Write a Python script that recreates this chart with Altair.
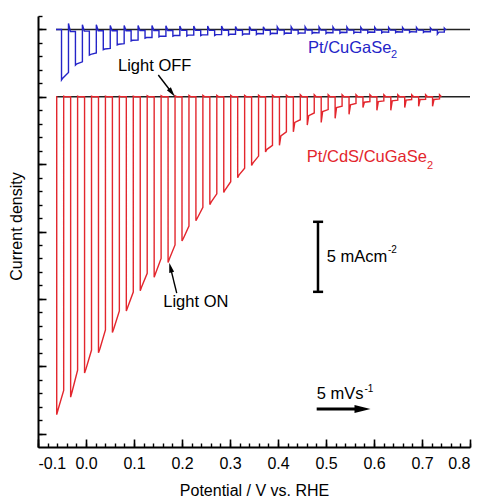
import altair as alt
import pandas as pd

BLUE = "#2424c8"
RED = "#e3262d"
FONT = "Liberation Sans"

# ---- axis ticks -------------------------------------------------------
x_major = [-0.1, 0.0, 0.1, 0.2, 0.3, 0.4, 0.5, 0.6, 0.7, 0.8]
x_minor = [-0.1, -0.08, -0.06, -0.04, -0.02, 0.0, 0.02, 0.04, 0.06, 0.08,
           0.1, 0.12, 0.14, 0.16, 0.18, 0.2, 0.22, 0.24, 0.26, 0.28,
           0.3, 0.32, 0.34, 0.36, 0.38, 0.4, 0.42, 0.44, 0.46, 0.48,
           0.5, 0.52, 0.54, 0.56, 0.58, 0.6, 0.62, 0.64, 0.66, 0.68,
           0.7, 0.72, 0.74, 0.76, 0.78, 0.8]
y_major = [-25, -20, -15, -10, -5, 0, 5]
y_minor = [-25, -24, -23, -22, -21, -20, -19, -18, -17, -16, -15, -14, -13,
           -12, -11, -10, -9, -8, -7, -6, -5, -4, -3, -2, -1, 0, 1, 2, 3, 4,
           5, 6]

# ---- chopped-light traces (potential in V, current in mA cm-2) ---------
start_v = -0.0625
light_on_width = 0.0145
recover_width = 0.003
blue_offset = 5.0   # vertical offset of the Pt/CuGaSe2 trace
red_offset = 0.0

red_on = [-0.061, -0.032, -0.003, 0.026, 0.055, 0.084, 0.113, 0.142, 0.171,
          0.200, 0.229, 0.258, 0.287, 0.316, 0.345, 0.374, 0.403, 0.432,
          0.461, 0.490, 0.519, 0.548, 0.577, 0.606, 0.635, 0.664, 0.693,
          0.722]
red_depth = [23.6, 22.3, 20.5, 19.0, 17.5, 15.9, 14.4, 13.4, 12.3, 10.7,
             9.2, 8.0, 7.1, 6.0, 5.1, 4.1, 3.6, 2.6, 2.1, 1.9, 1.6, 1.3, 0.8,
             1.0, 1.0, 0.8, 0.7, 0.7]
red_mid = [23.2, 21.9, 20.2, 18.7, 17.2, 15.6, 14.1, 13.1, 12.0, 10.5, 9.0,
           7.8, 6.9, 5.8, 4.9, 3.9, 2.9, 1.9, 1.4, 1.1, 0.8, 0.6, 0.4, 0.35,
           0.3, 0.25, 0.2, 0.2]
red_end = [21.8, 20.3, 18.8, 17.3, 15.9, 14.5, 13.1, 12.0, 11.0, 9.6, 8.2,
           7.2, 6.3, 5.3, 4.4, 3.6, 2.6, 1.7, 1.2, 0.95, 0.7, 0.5, 0.35, 0.3,
           0.25, 0.2, 0.18, 0.15]
red_over = [0.05, 0.05, 0.05, 0.05, 0.05, 0.05, 0.08, 0.08, 0.08, 0.1, 0.1,
            0.1, 0.1, 0.1, 0.12, 0.12, 0.12, 0.15, 0.15, 0.15, 0.15, 0.15,
            0.15, 0.15, 0.15, 0.15, 0.15, 0.15]
red_dark = [0.0, 0.0, 0.0, 0.0, 0.0, 0.0, 0.0, 0.0, 0.0, 0.0, 0.0, 0.0, 0.0,
            0.0, 0.0, 0.0, 0.0, 0.0, 0.0, 0.0, 0.0, 0.0, 0.0, 0.0, 0.0, 0.0,
            0.0, 0.0]

blue_on = [-0.051, -0.022, 0.007, 0.036, 0.065, 0.094, 0.123, 0.152, 0.181,
           0.210, 0.239, 0.268, 0.297, 0.326, 0.355, 0.384, 0.413, 0.442,
           0.471, 0.500, 0.529, 0.558, 0.587, 0.616, 0.645, 0.674, 0.703,
           0.732]
blue_depth = [3.75, 2.65, 1.9, 1.5, 1.15, 0.85, 0.65, 0.55, 0.5, 0.48, 0.46,
              0.45, 0.42, 0.4, 0.38, 0.36, 0.34, 0.32, 0.3, 0.3, 0.28, 0.27,
              0.26, 0.25, 0.24, 0.23, 0.22, 0.35]
blue_mid = [3.6, 2.55, 1.85, 1.45, 1.1, 0.8, 0.6, 0.5, 0.45, 0.42, 0.4, 0.38,
            0.35, 0.33, 0.3, 0.28, 0.26, 0.25, 0.23, 0.22, 0.21, 0.2, 0.19,
            0.18, 0.17, 0.16, 0.15, 0.2]
blue_end = [3.2, 2.4, 1.75, 1.4, 1.05, 0.78, 0.6, 0.5, 0.45, 0.42, 0.4, 0.38,
            0.36, 0.34, 0.32, 0.3, 0.28, 0.27, 0.25, 0.24, 0.23, 0.22, 0.21,
            0.2, 0.19, 0.18, 0.17, 0.2]
blue_over = [0.45, 0.35, 0.35, 0.3, 0.3, 0.3, 0.3, 0.28, 0.25, 0.25, 0.25,
             0.25, 0.22, 0.22, 0.2, 0.2, 0.2, 0.2, 0.18, 0.18, 0.18, 0.16,
             0.16, 0.15, 0.15, 0.15, 0.12, 0.1]
blue_dark = [0.15, 0.12, 0.1, 0.1, 0.1, 0.08, 0.08, 0.08, 0.07, 0.07, 0.07,
             0.06, 0.06, 0.06, 0.06, 0.05, 0.05, 0.05, 0.05, 0.05, 0.05, 0.05,
             0.05, 0.05, 0.05, 0.05, 0.05, 0.05]

# ---- annotations ------------------------------------------------------
labels = ["Pt/CuGaSe", "2", "Pt/CdS/CuGaSe", "2", "Light OFF", "Light ON",
          "5 mAcm", "-2", "5 mVs", "-1"]
label_v = [0.4625, 0.6354, 0.46, 0.7104, 0.0667, 0.161, 0.5014, 0.629,
           0.4806, 0.58]
label_j = [3.66, 3.14, -4.45, -5.1, 2.29, -15.2, -11.93, -11.37, -22.03,
           -21.7]
label_size = [16.5, 11, 16.5, 11, 16.5, 16.5, 16.5, 10, 16.5, 10]
label_color = [BLUE, BLUE, RED, RED, "black", "black", "black", "black",
               "black", "black"]

arrow_id = ["off", "off", "on", "on", "rate", "rate"]
arrow_v = [0.1506, 0.179, 0.189, 0.176, 0.4806, 0.576]
arrow_j = [1.62, 0.30, -14.57, -12.68, -23.18, -23.18]
arrow_w = [1.4, 1.4, 1.4, 1.4, 3.0, 3.0]

head_v = [0.179, 0.176, 0.576]
head_j = [0.30, -12.68, -23.18]
head_angle = [52.3, 256.3, 0.0]
head_size = [100, 100, 256]

bar_v = [0.4833, 0.473, 0.473]
bar_v2 = [0.4833, 0.494, 0.494]
bar_j = [-9.28, -9.28, -14.48]
bar_j2 = [-14.48, -9.28, -14.48]


def build(on, depth, mid, end, over, dark, base):
    vs, js = [start_v], [base]
    prev = 0.0
    for i in range(len(on)):
        off = on[i] + light_on_width
        vs += [on[i], on[i], on[i] + recover_width, off, off, off + 0.004]
        js += [base - prev, base - depth[i], base - mid[i], base - end[i],
               base + over[i], base - dark[i]]
        prev = dark[i]
    return pd.DataFrame({"v": vs, "j": js, "k": list(range(len(vs)))})


blue_df = build(blue_on, blue_depth, blue_mid, blue_end, blue_over, blue_dark,
                blue_offset)
red_df = build(red_on, red_depth, red_mid, red_end, red_over, red_dark,
               red_offset)
base_df = pd.DataFrame({"v": [start_v, start_v], "v2": [0.8, 0.8],
                        "j": [blue_offset, red_offset]})
label_df = pd.DataFrame({"t": labels, "v": label_v, "j": label_j,
                         "fs": label_size, "c": label_color})
arrow_df = pd.DataFrame({"id": arrow_id, "v": arrow_v, "j": arrow_j,
                         "w": arrow_w, "k": list(range(len(arrow_v)))})
head_df = pd.DataFrame({"v": head_v, "j": head_j, "a": head_angle,
                        "s": head_size})
bar_df = pd.DataFrame({"v": bar_v, "v2": bar_v2, "j": bar_j, "j2": bar_j2})

W, H = 432, 431
xs = alt.Scale(domain=[-0.1, 0.8], nice=False, zero=False)
ys = alt.Scale(domain=[-26, 6], nice=False, zero=False)

baselines = alt.Chart(base_df).mark_rule(color="#222222", strokeWidth=1.5).encode(
    x=alt.X("v:Q", scale=xs, axis=alt.Axis(
        orient="bottom", values=x_major, format=".1f",
        labelExpr="replace(datum.label, '\u2212', '-')",
        ticks=False, tickSize=0, labelPadding=8, domainWidth=2,
        domainColor="black", grid=False, title="Potential / V vs. RHE",
        titlePadding=11)),
    x2="v2:Q",
    y=alt.Y("j:Q", scale=ys, axis=alt.Axis(
        orient="left", ticks=False, tickSize=0, labels=False, domainWidth=2,
        domainColor="black", grid=False, title="Current density",
        titlePadding=14, titleY=210)),
)

blue = alt.Chart(blue_df).mark_line(color=BLUE, strokeWidth=1.4).encode(
    x=alt.X("v:Q", scale=xs, axis=alt.Axis(
        orient="top", offset=-H, values=x_major, tickSize=8, tickWidth=1.6,
        tickColor="black", labels=False, domain=False, grid=False, title=None)),
    y=alt.Y("j:Q", scale=ys, axis=alt.Axis(
        orient="right", offset=-W, values=y_major, tickSize=8, tickWidth=1.6,
        tickColor="black", labels=False, domain=False, grid=False, title=None)),
    order="k:Q",
)

red = alt.Chart(red_df).mark_line(color=RED, strokeWidth=1.4).encode(
    x=alt.X("v:Q", scale=xs, axis=alt.Axis(
        orient="top", offset=-H, values=x_minor, tickSize=4, tickWidth=1.4,
        tickColor="black", labels=False, domain=False, grid=False, title=None)),
    y=alt.Y("j:Q", scale=ys, axis=alt.Axis(
        orient="right", offset=-W, values=y_minor, tickSize=4, tickWidth=1.4,
        tickColor="black", labels=False, domain=False, grid=False, title=None)),
    order="k:Q",
)

text = alt.Chart(label_df).mark_text(align="left", baseline="middle", font=FONT).encode(
    x=alt.X("v:Q", scale=xs, axis=None),
    y=alt.Y("j:Q", scale=ys, axis=None),
    text="t:N",
    size=alt.Size("fs:Q", scale=None),
    color=alt.Color("c:N", scale=None),
)

arrows = alt.Chart(arrow_df).mark_line(color="black").encode(
    x=alt.X("v:Q", scale=xs, axis=None),
    y=alt.Y("j:Q", scale=ys, axis=None),
    detail="id:N",
    order="k:Q",
    strokeWidth=alt.StrokeWidth("w:Q", scale=None),
)

heads = alt.Chart(head_df).mark_point(
    shape="M-1,-0.5L1,0L-1,0.5Z", filled=True, color="black", opacity=1
).encode(
    x=alt.X("v:Q", scale=xs, axis=None),
    y=alt.Y("j:Q", scale=ys, axis=None),
    angle=alt.Angle("a:Q", scale=None),
    size=alt.Size("s:Q", scale=None),
)

bar = alt.Chart(bar_df).mark_rule(color="black", strokeWidth=2.5).encode(
    x=alt.X("v:Q", scale=xs, axis=None),
    x2="v2:Q",
    y=alt.Y("j:Q", scale=ys, axis=None),
    y2="j2:Q",
)

chart = alt.layer(baselines, blue, red, text, arrows, heads, bar).resolve_axis(
    x="independent", y="independent"
).properties(
    width=W, height=H,
    autosize=alt.AutoSizeParams(type="none"),
    padding={"left": 30, "top": 8, "right": 8, "bottom": 54},
).configure_view(stroke=None).configure_axis(
    labelFont=FONT, titleFont=FONT, labelFontSize=16, titleFontSize=16,
    titleFontWeight="normal", labelColor="black", titleColor="black",
)

chart.save("out.html", embed_options={"renderer": "svg", "actions": False})
